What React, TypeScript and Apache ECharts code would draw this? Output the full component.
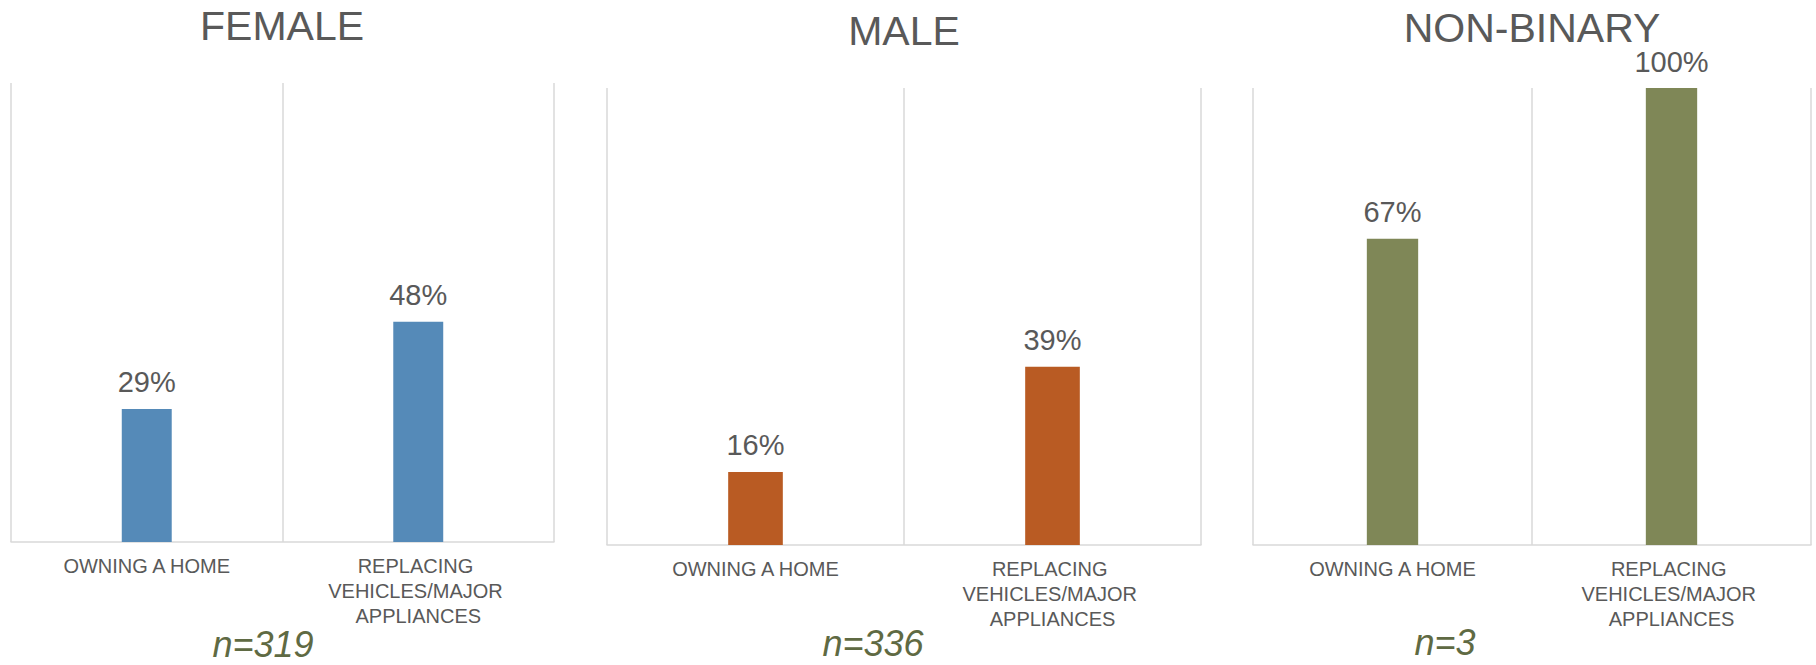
import React, { useEffect, useRef } from "react";
import * as echarts from "echarts";

const categories = ["OWNING A HOME", "REPLACING VEHICLES/MAJOR APPLIANCES"];
const femaleValues = [0.29, 0.48];
const maleValues = [0.16, 0.39];
const nonBinaryValues = [0.67, 1.0];
const groupTitles = ["FEMALE", "MALE", "NON-BINARY"];
const sampleSizes = ["n=319", "n=336", "n=3"];
const barColors = ["#558ab8", "#b95b23", "#7f8757"];

const FONT = "'Liberation Sans', Arial, sans-serif";
const TEXT = "#595959";
const LINE = "#d9d9d9";

const grids = [
  { left: 11, top: 83, width: 543, height: 459 },
  { left: 607, top: 88, width: 594, height: 457 },
  { left: 1253, top: 88, width: 558, height: 457 },
];
const titlePos = [
  { cx: 282, top: 5 },
  { cx: 904, top: 10 },
  { cx: 1532, top: 7 },
];
const nPos = [
  { cx: 263, y: 626 },
  { cx: 873, y: 625 },
  { cx: 1445, y: 624 },
];

export default function App() {
  const ref = useRef<HTMLDivElement>(null);
  useEffect(() => {
    if (!ref.current) return;
    const chart = echarts.init(ref.current, undefined, { renderer: "svg" });
    const seriesData = [femaleValues, maleValues, nonBinaryValues];
    const option: any = {
      animation: false,
      backgroundColor: "#ffffff",
      title: groupTitles.map((t, i) => ({
        text: t,
        left: titlePos[i].cx,
        top: titlePos[i].top,
        textAlign: "center",
        padding: 0,
        textStyle: {
          fontFamily: FONT,
          fontSize: 41,
          fontWeight: "normal",
          color: TEXT,
        },
      })),
      grid: grids.map((g) => ({ ...g, containLabel: false })),
      xAxis: grids.map((_, i) => ({
        type: "category",
        gridIndex: i,
        data: categories,
        axisTick: { show: false },
        axisLine: { show: true, lineStyle: { color: LINE, width: 1.5 } },
        splitLine: { show: true, lineStyle: { color: LINE, width: 1.5 } },
        axisLabel: {
          interval: 0,
          margin: 11,
          fontFamily: FONT,
          fontSize: 20,
          lineHeight: 25,
          color: TEXT,
          width: 215,
          overflow: "break",
          align: "center",
        },
      })),
      yAxis: grids.map((_, i) => ({
        type: "value",
        gridIndex: i,
        min: 0,
        max: 1,
        show: false,
        splitLine: { show: false },
      })),
      series: seriesData.map((d, i) => ({
        type: "bar",
        xAxisIndex: i,
        yAxisIndex: i,
        data: d,
        barWidth: "18.4%",
        itemStyle: { color: barColors[i] },
        label: {
          show: true,
          position: "top",
          distance: 12,
          fontFamily: FONT,
          fontSize: 29,
          color: TEXT,
          formatter: (p: any) => Math.round(p.value * 100) + "%",
        },
      })),
      graphic: sampleSizes.map((s, i) => ({
        type: "text",
        x: nPos[i].cx,
        y: nPos[i].y,
        style: {
          text: s,
          fontFamily: FONT,
          fontSize: 36,
          fontStyle: "italic",
          fill: "#5f6a43",
          textAlign: "center",
          textVerticalAlign: "top",
        },
      })),
    };
    chart.setOption(option);
    return () => chart.dispose();
  }, []);
  return (
    <div
      ref={ref}
      style={{ position: "fixed", left: 0, top: 0, width: 1816, height: 665 }}
    />
  );
}
